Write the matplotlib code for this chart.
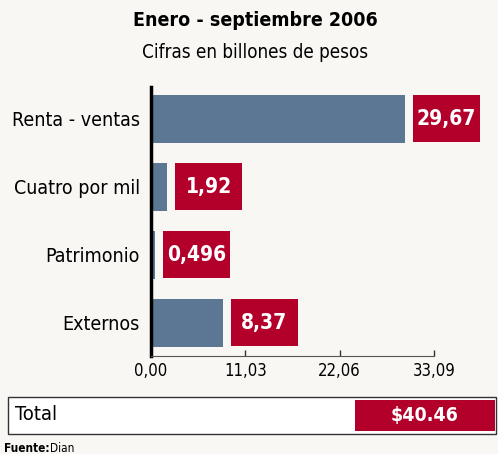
import matplotlib.pyplot as plt
from matplotlib.patches import Rectangle

plt.rcParams['font.family'] = ['DejaVu Sans']
plt.rcParams['font.stretch'] = 'condensed'

categorias = ['Renta - ventas', 'Cuatro por mil', 'Patrimonio', 'Externos']
valores = [29.67, 1.92, 0.496, 8.37]
etiquetas = ['29,67', '1,92', '0,496', '8,37']
ticks = [0.0, 11.03, 22.06, 33.09]
tick_labels = ['0,00', '11,03', '22,06', '33,09']
total_label = '$40.46'

BG = '#f8f7f3'
AZUL = '#5b7794'
ROJO = '#b3002b'

W, H = 498, 454
fig = plt.figure(figsize=(W / 100, H / 100), dpi=100, facecolor=BG)

# axes in pixel coords: x 151..493, y 87..356 (from top)
ax = fig.add_axes([151 / W, 1 - 356 / H, (493 - 151) / W, (356 - 87) / H])
ax.set_facecolor(BG)
ax.set_xlim(0, 342 / 8.553)
ax.set_ylim(3.49, -0.47)

ypos = list(range(len(categorias)))
ax.barh(ypos, valores, height=0.71, color=AZUL)

gap = 8 / 8.553
ancho = 67 / 8.553
ax.barh(ypos, [ancho] * len(valores), left=[v + gap for v in valores],
        height=0.69, color=ROJO)
for y, v, t in zip(ypos, valores, etiquetas):
    ax.text(v + gap + ancho / 2, y, t, ha='center', va='center',
            color='white', fontsize=15, fontweight='bold')

ax.set_yticks(ypos)
ax.set_yticklabels(categorias, fontsize=14)
ax.tick_params(axis='y', length=0, pad=8)
ax.set_xticks(ticks)
ax.set_xticklabels(tick_labels, fontsize=12)
ax.tick_params(axis='x', direction='in', length=4, width=1, pad=4, colors='#333333',
               labelcolor='black')

for s in ['top', 'right']:
    ax.spines[s].set_visible(False)
ax.spines['left'].set_linewidth(2.5)
ax.spines['bottom'].set_bounds(0, 33.09)
ax.spines['bottom'].set_color('#555555')

fig.text(255 / W, 1 - 20 / H, 'Enero - septiembre 2006', ha='center', va='center',
         fontsize=14, fontweight='bold')
fig.text(255 / W, 1 - 52 / H, 'Cifras en billones de pesos', ha='center', va='center',
         fontsize=13.5)

# Total box
fig.patches.append(Rectangle((8 / W, 1 - 434 / H), 488 / W, 37 / H,
                             transform=fig.transFigure, facecolor='white',
                             edgecolor='#333333', linewidth=1))
fig.patches.append(Rectangle((355 / W, 1 - 431 / H), 140 / W, 31 / H,
                             transform=fig.transFigure, facecolor=ROJO,
                             edgecolor='none'))
fig.text(15 / W, 1 - 415 / H, 'Total', ha='left', va='center', fontsize=14.5)
fig.text(425 / W, 1 - 415 / H, total_label, ha='center', va='center',
         fontsize=14, fontweight='bold', color='white')

fig.text(4 / W, 1 - 449 / H, 'Fuente:', ha='left', va='center', fontsize=8.5,
         fontweight='bold')
fig.text(50 / W, 1 - 449 / H, 'Dian', ha='left', va='center', fontsize=8.5)

fig.savefig('out.png', dpi=100, facecolor=BG)
